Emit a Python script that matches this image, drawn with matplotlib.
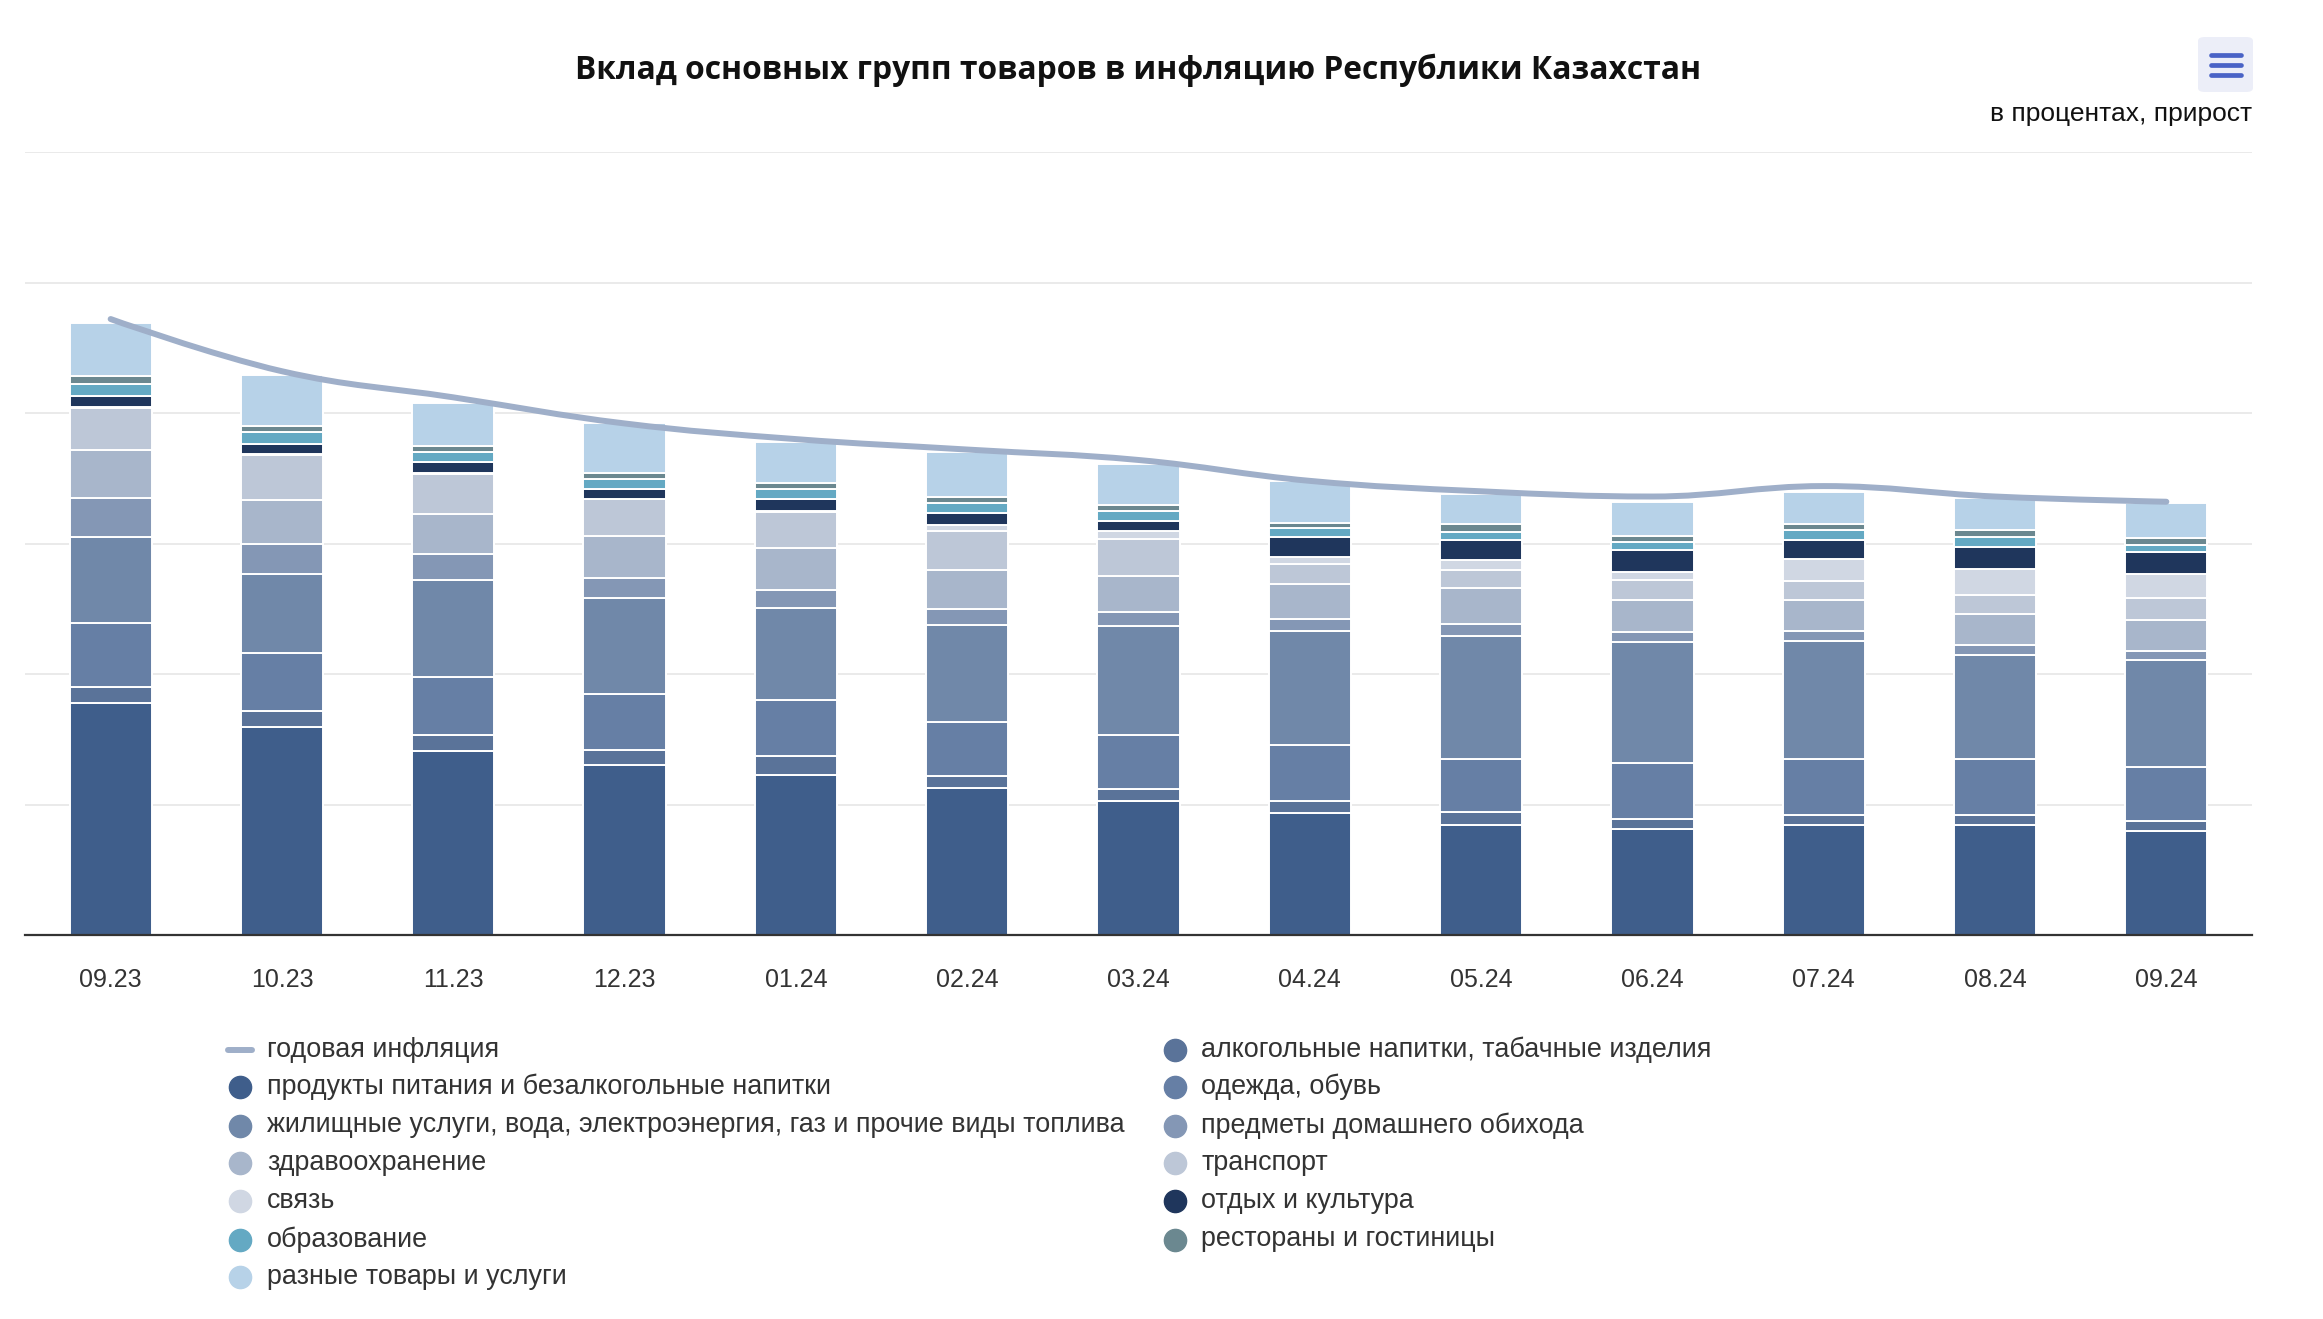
import matplotlib
matplotlib.use("Agg")
import matplotlib.pyplot as plt
import numpy as np
from matplotlib.path import Path
from matplotlib.patches import PathPatch, FancyBboxPatch
from matplotlib.lines import Line2D

plt.rcParams['font.family'] = ['Liberation Sans', 'DejaVu Sans']

# months on the x axis
months = ['09.23', '10.23', '11.23', '12.23', '01.24', '02.24', '03.24',
          '04.24', '05.24', '06.24', '07.24', '08.24', '09.24']

# annual inflation, %
inflation = [11.8, 10.8, 10.3, 9.8, 9.5, 9.3, 9.1, 8.7, 8.5, 8.4, 8.6, 8.4, 8.3]

# contributions of groups, percentage points
food        = [4.44, 3.98, 3.52, 3.26, 3.07, 2.81, 2.57, 2.34, 2.11, 2.03, 2.10, 2.10, 1.99]
alcohol     = [0.31, 0.31, 0.31, 0.28, 0.35, 0.23, 0.23, 0.23, 0.24, 0.19, 0.19, 0.19, 0.19]
clothing    = [1.23, 1.12, 1.12, 1.07, 1.08, 1.04, 1.03, 1.07, 1.03, 1.08, 1.08, 1.08, 1.04]
housing     = [1.65, 1.50, 1.85, 1.85, 1.76, 1.85, 2.08, 2.19, 2.35, 2.31, 2.27, 2.00, 2.04]
furnishings = [0.74, 0.58, 0.50, 0.38, 0.35, 0.31, 0.27, 0.23, 0.23, 0.19, 0.19, 0.19, 0.19]
health      = [0.92, 0.85, 0.77, 0.81, 0.80, 0.76, 0.70, 0.66, 0.68, 0.62, 0.58, 0.58, 0.58]
transport   = [0.81, 0.85, 0.77, 0.70, 0.70, 0.74, 0.70, 0.38, 0.36, 0.38, 0.38, 0.38, 0.42]
communic    = [0.02, 0.02, 0.02, 0.01, 0.02, 0.11, 0.16, 0.15, 0.19, 0.15, 0.42, 0.50, 0.46]
recreation  = [0.20, 0.20, 0.20, 0.18, 0.23, 0.23, 0.19, 0.38, 0.38, 0.42, 0.35, 0.42, 0.42]
education   = [0.23, 0.23, 0.19, 0.20, 0.19, 0.19, 0.19, 0.16, 0.15, 0.15, 0.19, 0.19, 0.15]
restaurants = [0.15, 0.12, 0.12, 0.11, 0.11, 0.12, 0.11, 0.11, 0.16, 0.12, 0.12, 0.12, 0.12]
misc        = [1.02, 0.97, 0.82, 0.95, 0.79, 0.86, 0.80, 0.79, 0.57, 0.66, 0.61, 0.63, 0.67]

line_name = 'годовая инфляция'
line_color = '#9fafc9'

# stacked from the bottom
groups = [
    ('продукты питания и безалкогольные напитки', food, '#3f5e8b'),
    ('алкогольные напитки, табачные изделия', alcohol, '#5a7399'),
    ('одежда, обувь', clothing, '#667fa5'),
    ('жилищные услуги, вода, электроэнергия, газ и прочие виды топлива', housing, '#7088a9'),
    ('предметы домашнего обихода', furnishings, '#8497b5'),
    ('здравоохранение', health, '#a8b6cb'),
    ('транспорт', transport, '#bdc7d7'),
    ('связь', communic, '#d0d7e3'),
    ('отдых и культура', recreation, '#1f365c'),
    ('образование', education, '#64a9c3'),
    ('рестораны и гостиницы', restaurants, '#6b8890'),
    ('разные товары и услуги', misc, '#b7d2e8'),
]


def spline_path(xs, ys, smoothing=1.5):
    # same control points as a highcharts spline
    n = len(xs)
    left = [(xs[i], ys[i]) for i in range(n)]
    right = [(xs[i], ys[i]) for i in range(n)]
    d = smoothing + 1
    for i in range(1, n - 1):
        x, y = xs[i], ys[i]
        lx = (smoothing * x + xs[i - 1]) / d
        ly = (smoothing * y + ys[i - 1]) / d
        rx = (smoothing * x + xs[i + 1]) / d
        ry = (smoothing * y + ys[i + 1]) / d
        corr = (ry - ly) * (rx - x) / (rx - lx) + y - ry
        ly += corr
        ry += corr
        if ly > ys[i - 1] and ly > y:
            ly = max(ys[i - 1], y)
            ry = 2 * y - ly
        elif ly < ys[i - 1] and ly < y:
            ly = min(ys[i - 1], y)
            ry = 2 * y - ly
        if ry > ys[i + 1] and ry > y:
            ry = max(ys[i + 1], y)
            ly = 2 * y - ry
        elif ry < ys[i + 1] and ry < y:
            ry = min(ys[i + 1], y)
            ly = 2 * y - ry
        left[i] = (lx, ly)
        right[i] = (rx, ry)
    verts = [(xs[0], ys[0])]
    codes = [Path.MOVETO]
    for i in range(1, n):
        verts += [right[i - 1], left[i], (xs[i], ys[i])]
        codes += [Path.CURVE4] * 3
    return Path(verts, codes)


W, H = 2323, 1319
fig = plt.figure(figsize=(W / 100, H / 100), dpi=100)
ax = fig.add_axes([25 / W, 1 - 935 / H, (2252 - 25) / W, (935 - 152) / H])

x = np.arange(len(months))
bottom = np.zeros(len(months))
for name, vals, color in groups:
    ax.bar(x, vals, width=0.48, bottom=bottom, color=color,
           edgecolor='white', linewidth=1.4, zorder=2)
    bottom += np.array(vals)

ax.add_patch(PathPatch(spline_path(list(x), inflation), fill=False,
                       edgecolor=line_color, linewidth=4.3,
                       capstyle='round', joinstyle='round', zorder=3))

ax.set_xlim(-0.5, len(months) - 0.5)
ax.set_ylim(0, 15)
ax.set_yticks(np.arange(0, 15.01, 2.5))
ax.yaxis.grid(True, color='#e6e6e6', linewidth=1.2, zorder=0)
ax.set_axisbelow(True)
ax.tick_params(axis='y', length=0, labelleft=False)
ax.set_xticks(x)
ax.set_xticklabels(months)
ax.tick_params(axis='x', length=0, pad=24, labelsize=18, labelcolor='#333333')
for s in ['left', 'right', 'top']:
    ax.spines[s].set_visible(False)
ax.spines['bottom'].set_color('#333333')
ax.spines['bottom'].set_linewidth(1.6)

fig.text(1138 / W, 1 - 70 / H,
         'Вклад основных групп товаров в инфляцию Республики Казахстан',
         ha='center', va='center', fontsize=22.9, fontweight='bold', color='#111111',
         family=['Open Sans', 'Liberation Sans', 'DejaVu Sans'])
fig.text(2252 / W, 1 - 114 / H, 'в процентах, прирост',
         ha='right', va='center', fontsize=19, color='#111111')

# menu button
fig.add_artist(FancyBboxPatch((2198 / W, 1 - 92 / H), 55 / W, 55 / H,
                              boxstyle='round,pad=0,rounding_size=0.003',
                              transform=fig.transFigure, facecolor='#eceef8',
                              edgecolor='none'))
for yy in [55, 64.5, 74.5]:
    fig.add_artist(Line2D([2211 / W, 2241 / W], [1 - yy / H, 1 - yy / H],
                          transform=fig.transFigure, color='#4a63c6',
                          linewidth=3.4, solid_capstyle='round'))

# legend, two columns
items = [(line_name, line_color, 'line')] + [(n, c, 'dot') for n, v, c in groups]
col1 = [items[0], items[1], items[4], items[6], items[8], items[10], items[12]]
col2 = [items[2], items[3], items[5], items[7], items[9], items[11]]
rows_y = [1050, 1087, 1125.5, 1162.5, 1201, 1239.5, 1276.6]
for col, mx, tx in [(col1, 240, 267), (col2, 1175, 1201)]:
    for (name, color, kind), yy in zip(col, rows_y):
        fy = 1 - yy / H
        if kind == 'line':
            fig.add_artist(Line2D([(mx - 12) / W, (mx + 12) / W], [fy, fy],
                                  transform=fig.transFigure, color=color,
                                  linewidth=4.3, solid_capstyle='round'))
        else:
            fig.add_artist(Line2D([mx / W], [fy], transform=fig.transFigure,
                                  marker='o', markersize=16, color=color,
                                  linestyle='none'))
        fig.text(tx / W, fy, name, ha='left', va='center', fontsize=19.4,
                 color='#333333')

fig.savefig('out.png', dpi=100)
